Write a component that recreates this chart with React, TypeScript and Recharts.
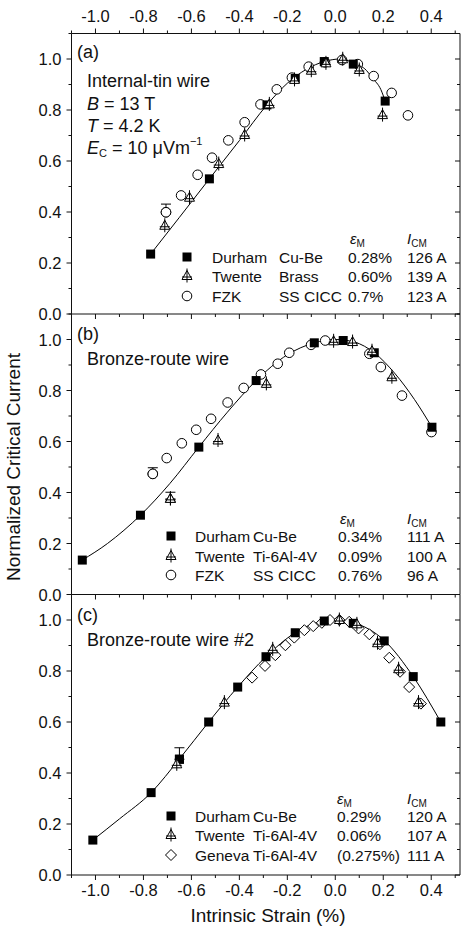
import React from "react";
import { ComposedChart, ErrorBar, Line, Scatter, XAxis, YAxis } from "recharts";

type Pt = { x: number; y: number };
type ErrPt = { x: number; y: number; err: [number, number] };

// ---- panel (a): internal-tin wire ----
const durhamA: Pt[] = [
  { x: -0.77, y: 0.235 }, { x: -0.525, y: 0.53 }, { x: -0.285, y: 0.82 }, { x: -0.167, y: 0.924 },
  { x: -0.046, y: 0.99 }, { x: 0.075, y: 0.98 }, { x: 0.208, y: 0.835 },
];
const twenteA: Pt[] = [
  { x: -0.711, y: 0.346 }, { x: -0.608, y: 0.456 }, { x: -0.486, y: 0.588 }, { x: -0.378, y: 0.702 },
  { x: -0.275, y: 0.822 }, { x: -0.17, y: 0.918 }, { x: -0.1, y: 0.954 }, { x: -0.039, y: 0.983 },
  { x: 0.031, y: 0.999 }, { x: 0.1, y: 0.957 }, { x: 0.197, y: 0.78 },
];
const fzkA: Pt[] = [
  { x: -0.706, y: 0.399 }, { x: -0.643, y: 0.465 }, { x: -0.574, y: 0.546 }, { x: -0.514, y: 0.613 },
  { x: -0.446, y: 0.681 }, { x: -0.378, y: 0.752 }, { x: -0.312, y: 0.822 }, { x: -0.244, y: 0.881 },
  { x: -0.181, y: 0.927 }, { x: -0.111, y: 0.97 }, { x: -0.043, y: 0.987 }, { x: 0.028, y: 0.996 },
  { x: 0.094, y: 0.98 }, { x: 0.16, y: 0.933 }, { x: 0.235, y: 0.867 }, { x: 0.303, y: 0.779 },
];
const errFzkA: ErrPt[] = [{ x: -0.706, y: 0.399, err: [0, 0.032] }];
const fitA: Pt[] = [
  { x: -0.77, y: 0.235 }, { x: -0.65, y: 0.379 }, { x: -0.525, y: 0.53 }, { x: -0.4, y: 0.68 },
  { x: -0.285, y: 0.82 }, { x: -0.2, y: 0.905 }, { x: -0.12, y: 0.96 }, { x: -0.046, y: 0.99 },
  { x: 0.02, y: 1.0 }, { x: 0.075, y: 0.985 }, { x: 0.13, y: 0.955 }, { x: 0.155, y: 0.925 },
  { x: 0.19, y: 0.88 }, { x: 0.208, y: 0.835 },
];

// ---- panel (b): bronze-route wire ----
const durhamB: Pt[] = [
  { x: -1.055, y: 0.135 }, { x: -0.8125, y: 0.311 }, { x: -0.569, y: 0.578 }, { x: -0.33, y: 0.839 },
  { x: -0.0875, y: 0.987 }, { x: 0.033, y: 0.996 }, { x: 0.1625, y: 0.948 }, { x: 0.403, y: 0.656 },
];
const twenteB: Pt[] = [
  { x: -0.6875, y: 0.375 }, { x: -0.489, y: 0.604 }, { x: -0.2875, y: 0.826 }, { x: -0.007, y: 0.993 },
  { x: 0.072, y: 0.99 }, { x: 0.153, y: 0.954 }, { x: 0.236, y: 0.852 },
];
const fzkB: Pt[] = [
  { x: -0.761, y: 0.473 }, { x: -0.703, y: 0.535 }, { x: -0.64, y: 0.593 }, { x: -0.58, y: 0.646 },
  { x: -0.518, y: 0.689 }, { x: -0.449, y: 0.753 }, { x: -0.382, y: 0.81 }, { x: -0.31, y: 0.863 },
  { x: -0.24, y: 0.905 }, { x: -0.192, y: 0.948 }, { x: -0.101, y: 0.979 }, { x: -0.042, y: 0.996 },
  { x: 0.142, y: 0.944 }, { x: 0.19, y: 0.892 }, { x: 0.278, y: 0.78 }, { x: 0.401, y: 0.637 },
];
const errFzkB: ErrPt[] = [{ x: -0.761, y: 0.473, err: [0, 0.024] }];
const errTwenteB: ErrPt[] = [{ x: -0.6875, y: 0.375, err: [0, 0.026] }];
const fitB: Pt[] = [
  { x: -1.055, y: 0.135 }, { x: -0.95, y: 0.2 }, { x: -0.8125, y: 0.311 }, { x: -0.69, y: 0.435 },
  { x: -0.569, y: 0.578 }, { x: -0.45, y: 0.715 }, { x: -0.33, y: 0.839 }, { x: -0.2, y: 0.94 },
  { x: -0.0875, y: 0.987 }, { x: 0.0, y: 1.0 }, { x: 0.08, y: 0.99 }, { x: 0.1625, y: 0.948 },
  { x: 0.25, y: 0.865 }, { x: 0.33, y: 0.765 }, { x: 0.403, y: 0.656 },
];

// ---- panel (c): bronze-route wire #2 ----
const durhamC: Pt[] = [
  { x: -1.011, y: 0.137 }, { x: -0.768, y: 0.323 }, { x: -0.65, y: 0.454 }, { x: -0.528, y: 0.6 },
  { x: -0.407, y: 0.737 }, { x: -0.289, y: 0.856 }, { x: -0.167, y: 0.95 }, { x: -0.046, y: 0.996 },
  { x: 0.075, y: 0.987 }, { x: 0.204, y: 0.918 }, { x: 0.325, y: 0.778 }, { x: 0.44, y: 0.6 },
];
const twenteC: Pt[] = [
  { x: -0.661, y: 0.434 }, { x: -0.4625, y: 0.676 }, { x: -0.261, y: 0.885 }, { x: 0.017, y: 1.0 },
  { x: 0.09, y: 0.983 }, { x: 0.176, y: 0.909 }, { x: 0.264, y: 0.807 }, { x: 0.347, y: 0.676 },
];
const genevaC: Pt[] = [
  { x: -0.347, y: 0.774 }, { x: -0.293, y: 0.82 }, { x: -0.25, y: 0.862 }, { x: -0.208, y: 0.901 },
  { x: -0.171, y: 0.931 }, { x: -0.129, y: 0.96 }, { x: -0.092, y: 0.976 }, { x: -0.056, y: 0.989 },
  { x: -0.022, y: 1.0 }, { x: 0.017, y: 1.0 }, { x: 0.058, y: 0.993 }, { x: 0.097, y: 0.967 },
  { x: 0.142, y: 0.944 }, { x: 0.186, y: 0.905 }, { x: 0.225, y: 0.852 }, { x: 0.27, y: 0.797 },
  { x: 0.308, y: 0.737 }, { x: 0.357, y: 0.672 },
];
const errDurhamC: ErrPt[] = [{ x: -0.65, y: 0.454, err: [0, 0.045] }];
const fitC: Pt[] = [
  { x: -1.011, y: 0.137 }, { x: -0.9, y: 0.22 }, { x: -0.768, y: 0.323 }, { x: -0.65, y: 0.455 },
  { x: -0.528, y: 0.6 }, { x: -0.407, y: 0.737 }, { x: -0.289, y: 0.856 }, { x: -0.167, y: 0.95 },
  { x: -0.046, y: 0.996 }, { x: 0.02, y: 1.0 }, { x: 0.075, y: 0.99 }, { x: 0.204, y: 0.92 },
  { x: 0.325, y: 0.778 }, { x: 0.44, y: 0.6 },
];

// ---- axes ----
const xTicks = [-1.1, -1.0, -0.9, -0.8, -0.7, -0.6, -0.5, -0.4, -0.3, -0.2, -0.1, 0.0, 0.1, 0.2, 0.3, 0.4, 0.5];
const xLabels = [-1.0, -0.8, -0.6, -0.4, -0.2, 0.0, 0.2, 0.4];
const yTicks = [0.0, 0.1, 0.2, 0.3, 0.4, 0.5, 0.6, 0.7, 0.8, 0.9, 1.0, 1.1];
const yLabels = [0.0, 0.2, 0.4, 0.6, 0.8, 1.0];
const X_DOMAIN: [number, number] = [-1.1, 0.52];
const Y_DOMAIN: [number, number] = [0, 1.1];

const FONT = "'Liberation Sans', Arial, sans-serif";
const INK = "#111";

const isLabel = (list: number[], v: number) => list.some((l) => Math.abs(l - v) < 1e-6);

function XTick(props: any) {
  const { x, y, payload, side, labels } = props;
  const v: number = payload.value;
  const major = isLabel(xLabels, v);
  const dir = side === "top" ? -1 : 1;
  const len = major ? 5 : 3;
  return (
    <g>
      <line x1={x} x2={x} y1={y} y2={y + dir * len} stroke={INK} strokeWidth={1} />
      {labels && major && (
        <text x={x} y={side === "top" ? y - 18 : y + 15} textAnchor="middle" dominantBaseline="central"
          fontSize={16.5} fontFamily={FONT} fill={INK}>{v.toFixed(1)}</text>
      )}
    </g>
  );
}

function YTick(props: any) {
  const { x, y, payload, side } = props;
  const v: number = payload.value;
  const major = isLabel(yLabels, v);
  const len = major ? 5 : 3;
  // left ticks point outwards, right ticks point inwards
  return (
    <g>
      <line x1={x} x2={x - len} y1={y} y2={y} stroke={INK} strokeWidth={1} />
      {side === "left" && major && (
        <text x={x - 10} y={y} textAnchor="end" dominantBaseline="central"
          fontSize={16.5} fontFamily={FONT} fill={INK}>{v.toFixed(1)}</text>
      )}
    </g>
  );
}

// ---- markers ----
const Square = ({ cx, cy }: any) => <rect x={cx - 4.5} y={cy - 4.5} width={9} height={9} fill="#000" />;
const Circle = ({ cx, cy }: any) => <circle cx={cx} cy={cy} r={4.8} fill="#fff" stroke="#000" strokeWidth={1} />;
const Diamond = ({ cx, cy }: any) => (
  <polygon points={`${cx},${cy - 5.5} ${cx + 5.5},${cy} ${cx},${cy + 5.5} ${cx - 5.5},${cy}`}
    fill="#fff" stroke="#000" strokeWidth={1} />
);
const Triangle = ({ cx, cy }: any) => (
  <g>
    <polygon points={`${cx},${cy - 5.5} ${cx + 5},${cy + 3.5} ${cx - 5},${cy + 3.5}`}
      fill="#fff" stroke="#000" strokeWidth={1} />
    <line x1={cx} x2={cx} y1={cy - 7.5} y2={cy + 6.5} stroke="#000" strokeWidth={1} />
    <line x1={cx - 5} x2={cx + 5} y1={cy + 1} y2={cy + 1} stroke="#000" strokeWidth={1} />
  </g>
);

type Series = { data: Pt[]; shape: (p: any) => React.ReactElement };
type ErrSeries = { data: ErrPt[]; shape: (p: any) => React.ReactElement };

function Panel(props: {
  top: number; height: number; marginTop: number; marginBottom: number;
  topLabels?: boolean; bottomLabels?: boolean;
  series: Series[]; errs: ErrSeries[]; fit: Pt[];
}) {
  const { top, height, marginTop, marginBottom, topLabels, bottomLabels, series, errs, fit } = props;
  // axes are given a 1px band so that they still render; margins take up the rest
  return (
    <div style={{ position: "absolute", left: 0, top }}>
      <ComposedChart width={461} height={height}
        margin={{ top: topLabels ? marginTop - 1 : marginTop, right: 0, bottom: marginBottom - 1, left: 70.5 }}>
        <XAxis xAxisId="b" type="number" dataKey="x" domain={X_DOMAIN} ticks={xTicks} interval={0}
          allowDataOverflow height={1} tickSize={0} tickMargin={0} tickLine={false}
          axisLine={{ stroke: INK }} tick={(p: any) => <XTick {...p} side="bottom" labels={bottomLabels} />} />
        {topLabels && (
          <XAxis xAxisId="t" orientation="top" type="number" dataKey="x" domain={X_DOMAIN} ticks={xTicks}
            interval={0} allowDataOverflow height={1} tickSize={0} tickMargin={0} tickLine={false}
            axisLine={{ stroke: INK }} tick={(p: any) => <XTick {...p} side="top" labels />} />
        )}
        <YAxis yAxisId="l" type="number" domain={Y_DOMAIN} ticks={yTicks} interval={0} allowDataOverflow
          width={1} tickSize={0} tickMargin={0} tickLine={false} axisLine={{ stroke: INK }}
          tick={(p: any) => <YTick {...p} side="left" />} />
        <YAxis yAxisId="r" orientation="right" type="number" domain={Y_DOMAIN} ticks={yTicks} interval={0}
          allowDataOverflow width={1} tickSize={0} tickMargin={0} tickLine={false} axisLine={{ stroke: INK }}
          tick={(p: any) => <YTick {...p} side="right" />} />
        {errs.map((s, i) => (
          <Scatter key={`e${i}`} xAxisId="b" yAxisId="l" data={s.data} dataKey="y" shape={s.shape}
            isAnimationActive={false}>
            <ErrorBar dataKey="err" direction="y" width={5} stroke="#000" strokeWidth={1} />
          </Scatter>
        ))}
        {series.map((s, i) => (
          <Scatter key={`s${i}`} xAxisId="b" yAxisId="l" data={s.data} dataKey="y" shape={s.shape}
            isAnimationActive={false} />
        ))}
        <Line xAxisId="b" yAxisId="l" data={fit} dataKey="y" type="monotone" stroke="#000" strokeWidth={1}
          dot={false} activeDot={false} isAnimationActive={false} />
      </ComposedChart>
    </div>
  );
}

const txt = { fontFamily: FONT, fill: INK } as const;

function LegendBlock(props: {
  symX: number; textX: number; c2: number; c3: number; c4: number; headY: number; epsX: number;
  rows: { y: number; shape: (p: any) => React.ReactElement; lab: string; holder: string; eps: string; icm: string }[];
}) {
  const { symX, textX, c2, c3, c4, headY, epsX, rows } = props;
  const fs = 15.5;
  return (
    <g>
      <text x={epsX} y={headY} dominantBaseline="central" fontSize={15} {...txt}>
        <tspan fontStyle="italic">ε</tspan><tspan dy={5} fontSize={10}>M</tspan>
      </text>
      <text x={c4} y={headY} dominantBaseline="central" fontSize={15} {...txt}>
        <tspan fontStyle="italic">I</tspan><tspan dy={5} fontSize={10}>CM</tspan>
      </text>
      {rows.map((r, i) => (
        <g key={i}>
          {r.shape({ cx: symX, cy: r.y })}
          <text x={textX} y={r.y} dominantBaseline="central" fontSize={fs} {...txt}>{r.lab}</text>
          <text x={c2} y={r.y} dominantBaseline="central" fontSize={fs} {...txt}>{r.holder}</text>
          <text x={c3} y={r.y} dominantBaseline="central" fontSize={fs} {...txt}>{r.eps}</text>
          <text x={c4} y={r.y} dominantBaseline="central" fontSize={fs} {...txt}>{r.icm}</text>
        </g>
      ))}
    </g>
  );
}

export default function App() {
  return (
    <div style={{ position: "absolute", left: 0, top: 0, width: 461, height: 932, background: "#fff", overflow: "hidden" }}>
      <Panel top={0} height={340} marginTop={33.5} marginBottom={26} topLabels
        series={[{ data: fzkA, shape: Circle }, { data: durhamA, shape: Square }, { data: twenteA, shape: Triangle }]}
        errs={[{ data: errFzkA, shape: Circle }]} fit={fitA} />
      <Panel top={300} height={320} marginTop={14} marginBottom={25.5}
        series={[{ data: fzkB, shape: Circle }, { data: durhamB, shape: Square }, { data: twenteB, shape: Triangle }]}
        errs={[{ data: errFzkB, shape: Circle }, { data: errTwenteB, shape: Triangle }]} fit={fitB} />
      <Panel top={580} height={352} marginTop={14.5} marginBottom={57} bottomLabels
        series={[{ data: genevaC, shape: Diamond }, { data: durhamC, shape: Square }, { data: twenteC, shape: Triangle }]}
        errs={[{ data: errDurhamC, shape: Square }]} fit={fitC} />
      <svg width={461} height={932} style={{ position: "absolute", left: 0, top: 0, pointerEvents: "none" }}>
        {/* panel (a) */}
        <text x={77} y={52} dominantBaseline="central" fontSize={18} {...txt}>(a)</text>
        <text x={87} y={81} dominantBaseline="central" fontSize={18} {...txt}>Internal-tin wire</text>
        <text x={87} y={104} dominantBaseline="central" fontSize={18} {...txt}>
          <tspan fontStyle="italic">B</tspan> = 13 T
        </text>
        <text x={87} y={126} dominantBaseline="central" fontSize={18} {...txt}>
          <tspan fontStyle="italic">T</tspan> = 4.2 K
        </text>
        <text x={87} y={148} dominantBaseline="central" fontSize={18} {...txt}>
          <tspan fontStyle="italic">E</tspan><tspan dy={5} fontSize={11}>C</tspan>
          <tspan dy={-5}> = 10 μVm</tspan><tspan dy={-7} fontSize={11}>−1</tspan>
        </text>
        <LegendBlock symX={187} textX={212} c2={279} c3={348} c4={407} headY={238} epsX={350}
          rows={[
            { y: 257, shape: Square, lab: "Durham", holder: "Cu-Be", eps: "0.28%", icm: "126 A" },
            { y: 276, shape: Triangle, lab: "Twente", holder: "Brass", eps: "0.60%", icm: "139 A" },
            { y: 296, shape: Circle, lab: "FZK", holder: "SS CICC", eps: "0.7%", icm: "123 A" },
          ]} />
        {/* panel (b) */}
        <text x={77} y={334} dominantBaseline="central" fontSize={18} {...txt}>(b)</text>
        <text x={87} y={359} dominantBaseline="central" fontSize={18} {...txt}>Bronze-route wire</text>
        <LegendBlock symX={171} textX={195} c2={253} c3={338} c4={407} headY={518} epsX={340}
          rows={[
            { y: 536, shape: Square, lab: "Durham", holder: "Cu-Be", eps: "0.34%", icm: "111 A" },
            { y: 556, shape: Triangle, lab: "Twente", holder: "Ti-6Al-4V", eps: "0.09%", icm: "100 A" },
            { y: 575, shape: Circle, lab: "FZK", holder: "SS CICC", eps: "0.76%", icm: "96 A" },
          ]} />
        {/* panel (c) */}
        <text x={77} y={615} dominantBaseline="central" fontSize={18} {...txt}>(c)</text>
        <text x={87} y={640} dominantBaseline="central" fontSize={18} {...txt}>Bronze-route wire #2</text>
        <LegendBlock symX={171} textX={195} c2={253} c3={337} c4={407} headY={798} epsX={337}
          rows={[
            { y: 816, shape: Square, lab: "Durham", holder: "Cu-Be", eps: "0.29%", icm: "120 A" },
            { y: 835, shape: Triangle, lab: "Twente", holder: "Ti-6Al-4V", eps: "0.06%", icm: "107 A" },
            { y: 855, shape: Diamond, lab: "Geneva", holder: "Ti-6Al-4V", eps: "(0.275%)", icm: "111 A" },
          ]} />
        {/* axis titles */}
        <text x={268} y={915} textAnchor="middle" dominantBaseline="central" fontSize={19} {...txt}>
          Intrinsic Strain (%)
        </text>
        <text x={13} y={467} textAnchor="middle" dominantBaseline="central" fontSize={19} {...txt}
          transform="rotate(-90 13 467)">Normalized Critical Current</text>
      </svg>
    </div>
  );
}
